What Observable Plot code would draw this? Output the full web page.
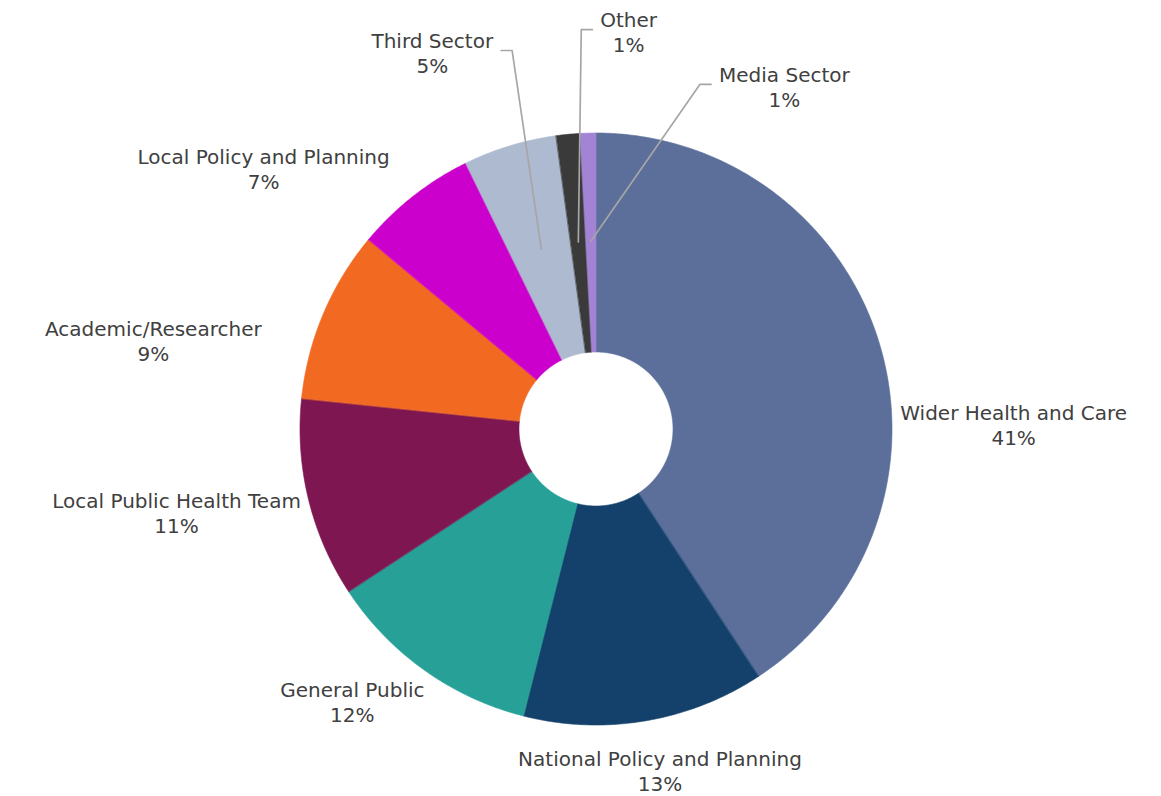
<!DOCTYPE html>
<html><head><meta charset="utf-8">
<script src="https://cdn.jsdelivr.net/npm/d3@7"></script>
<script src="https://cdn.jsdelivr.net/npm/@observablehq/plot@0.6"></script>
<style>html,body{margin:0;padding:0;background:#fff;} #chart svg{display:block}</style>
</head><body><div id="chart"></div>
<script>
// ---- data ----
const categories = ["Wider Health and Care","National Policy and Planning","General Public","Local Public Health Team","Academic/Researcher","Local Policy and Planning","Third Sector","Other","Media Sector"];
const values = [40.75, 13.2, 11.8, 10.9, 9.4, 6.7, 5.1, 1.3, 0.85];
// ---- styles ----
const colors = ["#5B6F9A","#14416B","#27A198","#7E1651","#F26A22","#CC00CC","#ADBACF","#3A3A3A","#A383D4"];
// ---- label layout: angle (deg clockwise from 12 o'clock) and distance (outer radii) ----
const labelAngles = [89.4, 169.4, 221.8, 258.7, 281.3, 308.1, 336.5, 4.7, 28.8];
const labelRadii  = [1.411, 1.175, 1.235, 1.445, 1.525, 1.427, 1.387, 1.347, 1.321];
const leaderCategories = ["Third Sector","Other","Media Sector"];

const W = 1161, H = 796, CX = 595.5, CY = 428.5, RPX = 296, INNER = 77 / 296;
const FONT_SIZE = 20, FONT = "DejaVu Sans";

const total = d3.sum(values);
let acc = 0;
const slices = categories.map((name, i) => {
  const a0 = acc / total * 2 * Math.PI; acc += values[i];
  const a1 = acc / total * 2 * Math.PI;
  return {name, a0, a1, value: values[i]};
});

// polygon outline points for each ring slice
const pts = [];
for (const s of slices) {
  const n = Math.max(2, Math.ceil((s.a1 - s.a0) * 180 / Math.PI * 2));
  for (let k = 0; k <= n; k++) { const a = s.a0 + (s.a1 - s.a0) * k / n; pts.push({name: s.name, x: Math.sin(a), y: Math.cos(a)}); }
  for (let k = n; k >= 0; k--) { const a = s.a0 + (s.a1 - s.a0) * k / n; pts.push({name: s.name, x: INNER * Math.sin(a), y: INNER * Math.cos(a)}); }
}

// labels
const labels = slices.map((s, i) => {
  const a = labelAngles[i] * Math.PI / 180, r = labelRadii[i];
  return {name: s.name, x: r * Math.sin(a), y: r * Math.cos(a),
          text: s.name + "\n" + Math.round(s.value / total * 100) + "%"};
});

// leader lines
const ctx = document.createElement("canvas").getContext("2d");
ctx.font = `${FONT_SIZE}px '${FONT}'`;
const leaders = [];
for (const name of leaderCategories) {
  const i = categories.indexOf(name), s = slices[i], L = labels[i];
  const am = (s.a0 + s.a1) / 2, rp = 0.635;
  const px = rp * Math.sin(am), py = rp * Math.cos(am);
  const hw = d3.max(L.text.split("\n"), t => ctx.measureText(t).width) / 2 / RPX;
  const gap = 8 / RPX, seg = 11 / RPX, ey = L.y + 2 / RPX;
  let sx, ex;
  if (L.x < px) { sx = L.x + hw + gap; ex = sx + seg; } else { sx = L.x - hw - gap; ex = sx - seg; }
  leaders.push({name, x: sx, y: ey}, {name, x: ex, y: ey}, {name, x: px, y: py});
}

const chart = Plot.plot({
  width: W, height: H, margin: 0,
  style: {fontFamily: FONT, background: "#fff"},
  x: {domain: [-CX / RPX, (W - CX) / RPX], axis: null},
  y: {domain: [-(H - CY) / RPX, CY / RPX], axis: null},
  color: {domain: categories, range: colors},
  marks: [
    Plot.line(pts, {x: "x", y: "y", z: "name", fill: "name", stroke: "name", strokeWidth: 0.6, curve: "linear-closed"}),
    Plot.line(leaders, {x: "x", y: "y", z: "name", stroke: "#A6A6A6", strokeWidth: 1.7, curve: "linear"}),
    Plot.text(labels, {x: "x", y: "y", text: "text", fontSize: FONT_SIZE, fontFamily: FONT, fill: "#404040", lineHeight: 1.25, textAnchor: "middle"})
  ]
});
document.getElementById("chart").appendChild(chart);
</script>
</body></html>
